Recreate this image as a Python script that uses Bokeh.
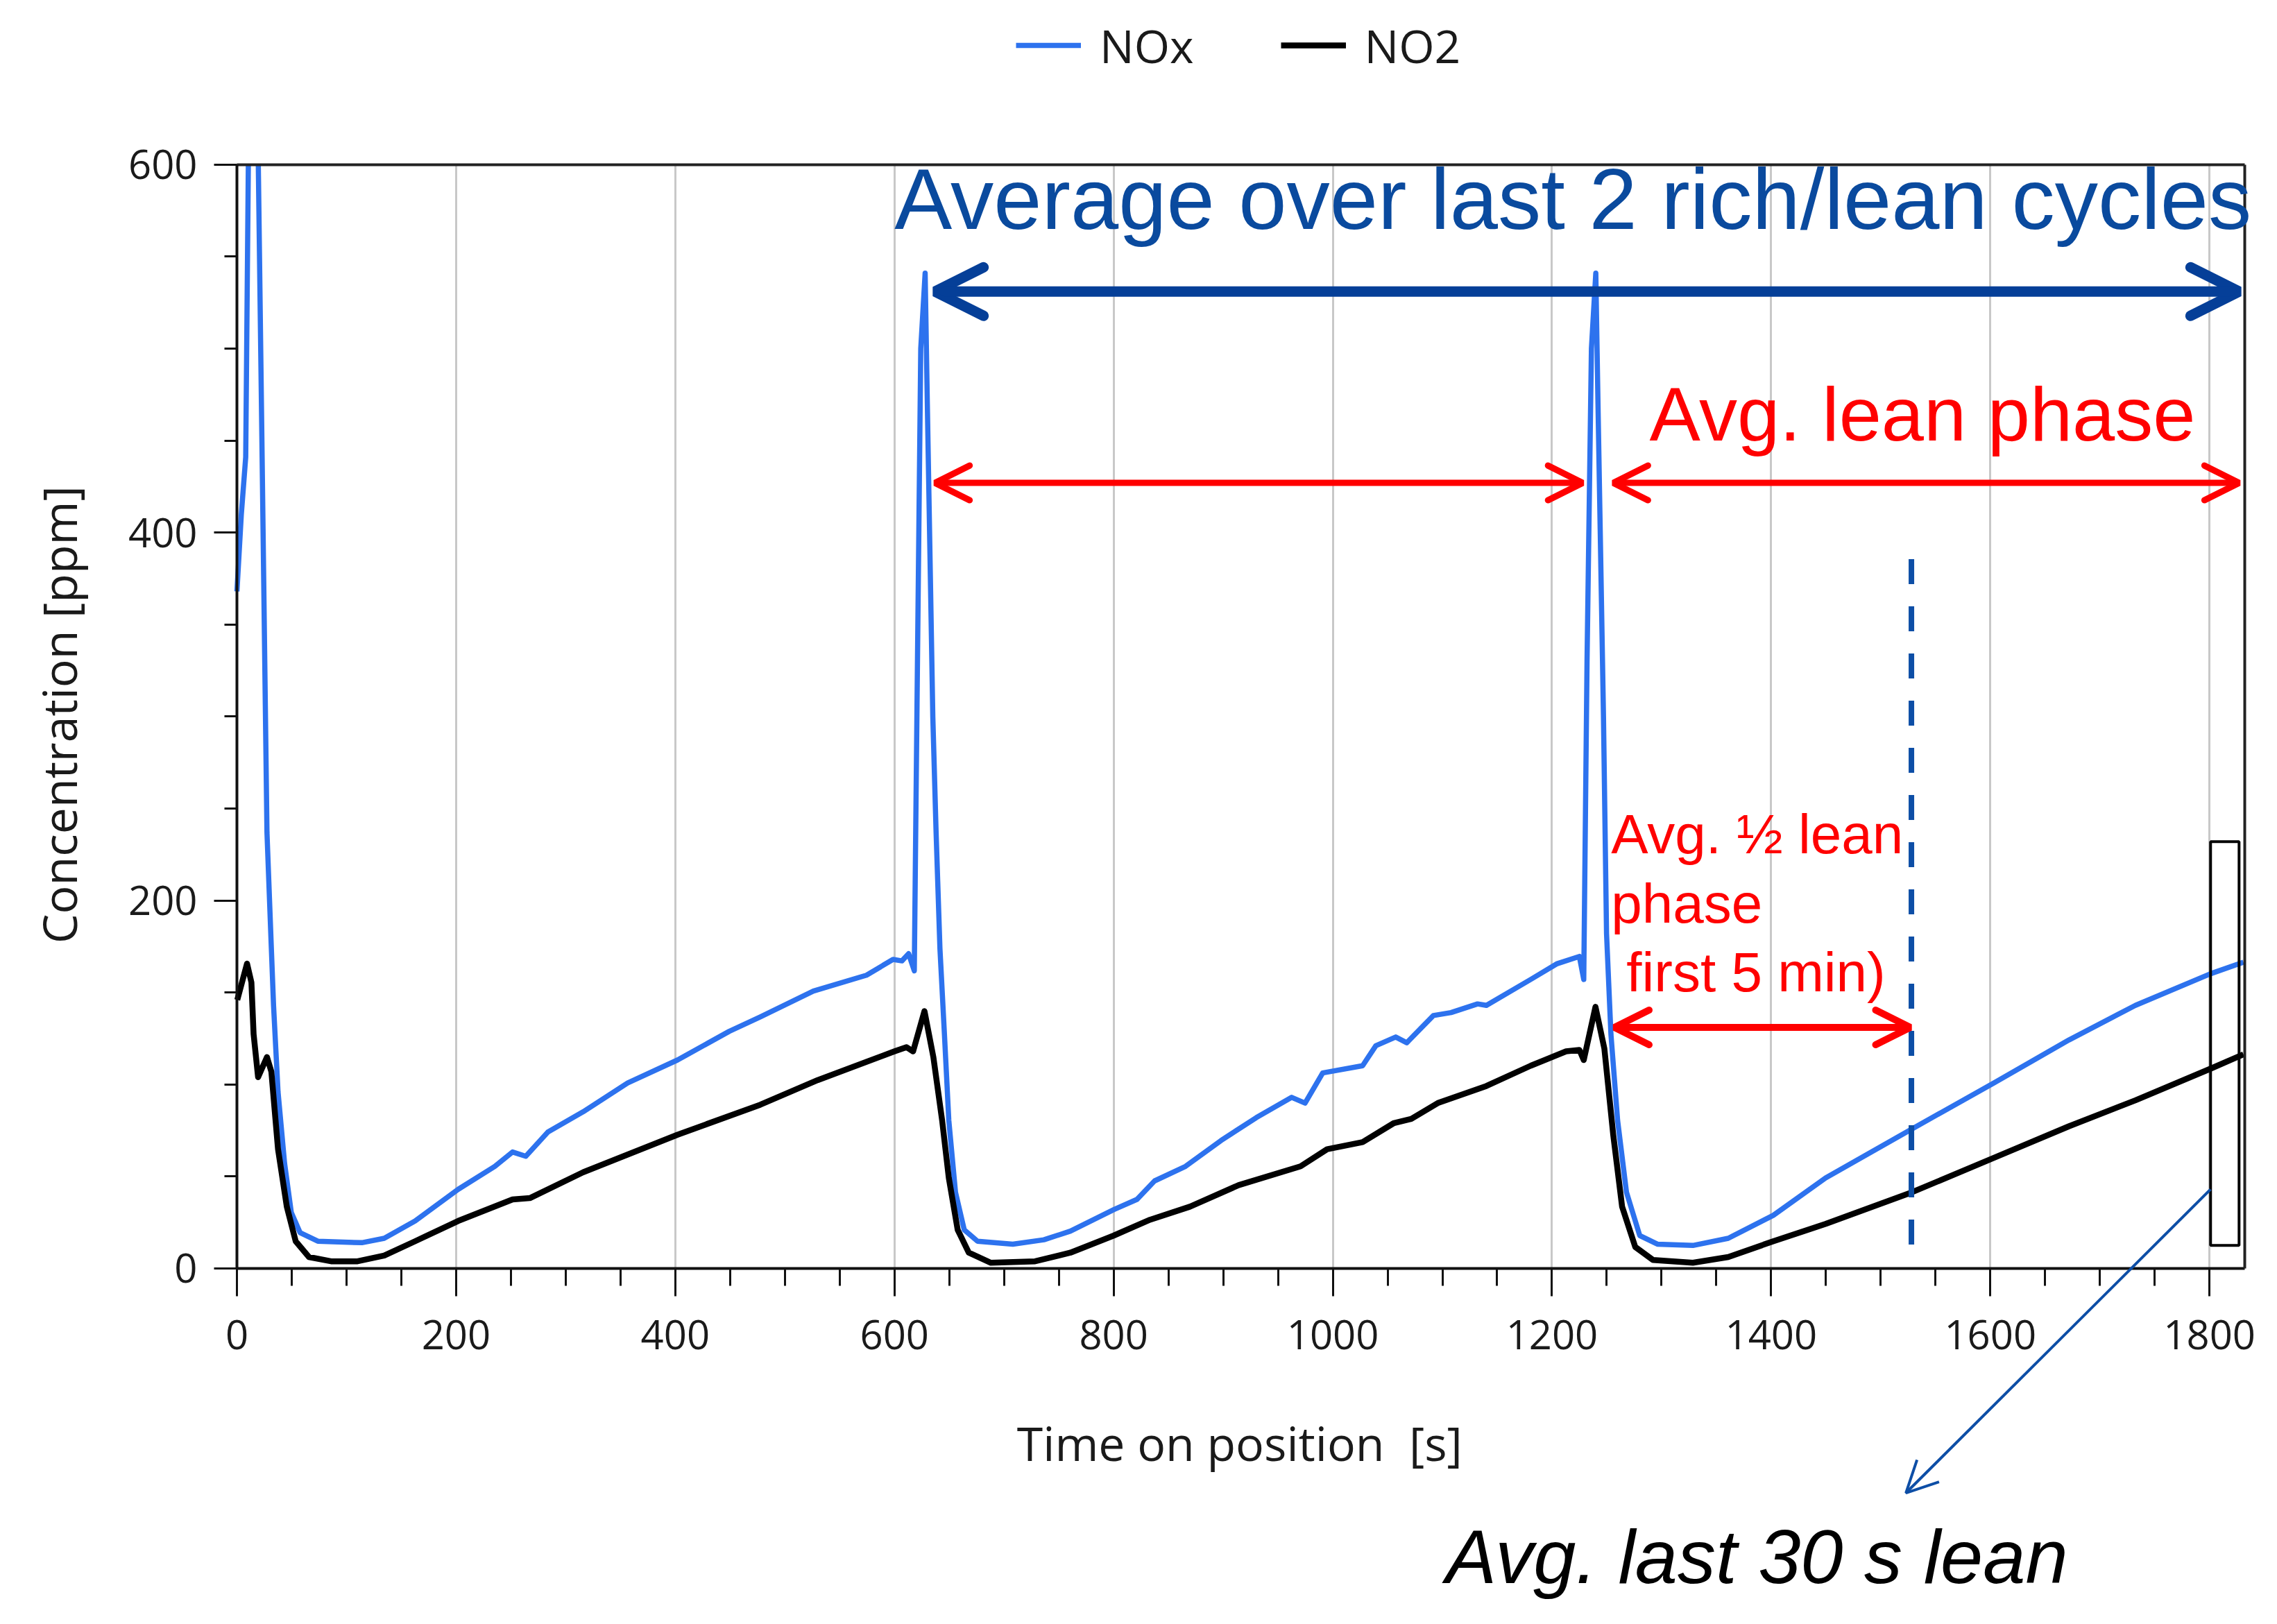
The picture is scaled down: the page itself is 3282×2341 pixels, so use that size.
import math
from bokeh.plotting import figure
from bokeh.models import (Legend, LegendItem, Label, Arrow, OpenHead, BoxAnnotation, Grid,
                          SingleIntervalTicker, FixedTicker, Range1d, LinearAxis)
from bokeh.embed import file_html
from bokeh.resources import INLINE

NAN = float("nan")   # NOx leaves the chart at the top during the first rich pulse

# ---------------- data ----------------
t_nox = [0, 4, 8, 10.4, 15, 19.5, 23, 27.4, 31.4, 33.4, 37.5, 43.5, 49.6, 57.6, 73.8, 114,
         134.4, 162.6, 201.8, 235.3, 251.5, 263.6, 283.8, 316, 356.5, 402, 449.3, 477.6, 526,
         574.5, 598.7, 606.8, 612.9, 618.1, 621, 624, 628, 630, 635, 638, 641.5, 645.6, 649.6,
         655.7, 663.7, 675.8, 708, 736.4, 760.6, 800.2, 821.2, 837.4, 865.6, 897.9, 930.2,
         962.5, 974.7, 990.8, 1027.2, 1039.3, 1057.4, 1067.5, 1091.8, 1107.9, 1132.1, 1140.2,
         1180.6, 1204.8, 1225, 1229, 1232, 1236, 1240, 1242, 1247, 1249.8, 1253.8, 1259.9,
         1268, 1280.1, 1296.2, 1328.6, 1360.9, 1402, 1449.7, 1528.4, 1603.1, 1671.8, 1732.4,
         1801, 1831]
nox = [368, 410, 441, 600, NAN, 600, 440, 237, 174, 143, 96, 57, 30.4, 19.5, 14.8, 14,
       16.4, 25.8, 43, 55.5, 63.3, 61, 74.2, 85.2, 100.8, 113.3, 128.9, 136.7, 150.8,
       159.4, 168, 167.2, 171.1, 161.8, 330, 500, 541, 470, 300, 237, 174, 127.4, 80.5,
       41.4, 21, 14.8, 13.2, 15.6, 20.3, 32, 37.5, 47.6, 55.5, 69.5, 82,
       93, 89.9, 106.3, 110.2, 121.1, 125.8, 122.7, 137.5, 139.1, 143.8, 143,
       157.1, 165.7, 169.6, 157.1, 330, 500, 541, 470, 300, 182, 127.4, 80.5,
       41.4, 17.9, 13.2, 12.5, 16.4, 28.9, 49.2, 75.8, 100.8, 124.2, 143,
       160.2, 166.5]

t_no2 = [0.3, 9.2, 13.2, 15.2, 19.3, 27.4, 31.4, 37.5, 45.5, 53.6, 65.7, 85.9, 110, 134.4,
         162.6, 201.8, 251.5, 267.6, 316, 402, 477.6, 530, 600, 611, 617, 627.4, 635.5, 643.5,
         649.6, 657.7, 667.8, 688, 728.3, 760.6, 800.2, 833.3, 869.7, 914.1, 970.6, 994.8,
         1027.2, 1055.4, 1071.6, 1095.8, 1140.2, 1180.6, 1212.9, 1225, 1229, 1239.7, 1247.8,
         1255.9, 1264, 1276, 1292.2, 1328.6, 1360.9, 1402, 1449.7, 1528.4, 1603.1, 1671.8,
         1732.4, 1801, 1831]
no2 = [146, 165.7, 155.5, 127.4, 104, 114.9, 107, 64.8, 33.6, 14.8, 6.2, 3.9, 3.9, 7,
       14.8, 25.8, 37.5, 38.3, 52.3, 72.7, 89, 102.4, 118, 120.3, 118, 139.9, 114.9, 80.5,
       49.2, 21, 8.6, 3.1, 3.9, 8.6, 17.9, 26.5, 33.6, 45.3, 55.5, 64.8,
       68.7, 78.9, 81.3, 89.9, 99.2, 110.2, 118, 118.8, 113.3, 142.2, 119.6,
       72.7, 33.6, 11.7, 4.6, 3.1, 6.2, 14.8, 24.2, 41.4, 60.1, 77.3,
       91.4, 108.6, 116.4]

series_names = ["NOx", "NO2"]
x_axis_limits = [0, 1832]
y_axis_limits = [0, 600]
x_view = [-215.9, 1851.8]     # whole canvas, so notes outside the axes are not clipped
y_view = [-189.3, 689.3]
tick_step = 200
x_title = "Time on position\u00a0 [s]"
y_title = "Concentration [ppm]"

# annotation anchors (data units)
cycles_arrow = [637, 1827, 531]          # x_start, x_end, y
lean_arrow_a = [637, 1228, 427]
lean_arrow_b = [1256, 1827, 427]
half_arrow = [1257, 1527, 131]
half_line = [1528, 13, 397]              # x, y0, y1
last_box = [1801, 1827, 12.5, 232]       # left, right, bottom, top
last_pointer = [1801, 43, 1523, -122]    # x0, y0, x1, y1

txt_cycles = ["Average over last 2 rich/lean cycles", 600, 581.5]
txt_lean = ["Avg. lean phase", 1289, 464.5]
txt_half = [["Avg. \u00bd lean", 1254, 236], ["phase", 1254, 198.5], ["first 5 min)", 1268, 161]]
txt_last = ["Avg. last 30 s lean", 1103, -156.5]
x_title_pos = [915, -94.7]
y_title_pos = [-162.7, 301]

NOX_C = "#2d72ee"
DARK_BLUE = "#053f98"
MID_BLUE = "#0d4ea6"
RED = "#ff0000"
ANN_FONT = "Liberation Sans"
AX_FONT = "Open Sans"
INK = "#1a1a1a"

p = figure(width=3266, height=2330, x_range=Range1d(*x_view), y_range=Range1d(*y_view),
           output_backend="svg", toolbar_location=None, title=None,
           min_border_left=0, min_border_right=0, min_border_top=0, min_border_bottom=0)
p.background_fill_color = "white"
p.border_fill_color = "white"
p.outline_line_color = None

xt = SingleIntervalTicker(interval=tick_step, num_minor_ticks=4)
yt = SingleIntervalTicker(interval=tick_step, num_minor_ticks=4)
p.xaxis.ticker = xt
p.yaxis.ticker = yt
p.xaxis.fixed_location = y_axis_limits[0]
p.yaxis.fixed_location = x_axis_limits[0]
p.xaxis.bounds = tuple(x_axis_limits)
p.yaxis.bounds = tuple(y_axis_limits)

p.ygrid.visible = False
p.xgrid.ticker = xt
p.xgrid.grid_line_color = "#c8c8c8"
p.xgrid.grid_line_width = 3
p.xgrid.bounds = tuple(x_axis_limits)
if "cross_bounds" in Grid.properties():
    p.xgrid.cross_bounds = tuple(y_axis_limits)

for ax in (p.xaxis[0], p.yaxis[0]):
    ax.axis_line_color = "#111111"
    ax.axis_line_width = 4
    ax.major_tick_line_color = "#111111"
    ax.minor_tick_line_color = "#111111"
    ax.major_tick_line_width = 3
    ax.minor_tick_line_width = 3
    ax.major_tick_in = 0
    ax.minor_tick_in = 0
    ax.major_label_text_font = AX_FONT
    ax.major_label_text_font_size = "58px"
    ax.major_label_text_color = INK

p.xaxis.major_tick_out = 40
p.xaxis.minor_tick_out = 25
p.yaxis.major_tick_out = 33
p.yaxis.minor_tick_out = 18
p.xaxis.major_label_standoff = 35
p.yaxis.major_label_standoff = 24

# frame border: right side and top edge of the data area
right_ax = LinearAxis(ticker=FixedTicker(ticks=[]), bounds=tuple(y_axis_limits),
                      fixed_location=x_axis_limits[1],
                      axis_line_color="#222222", axis_line_width=4,
                      major_tick_out=0, minor_tick_out=0, major_tick_in=0, minor_tick_in=0)
p.add_layout(right_ax, "right")
top_ax = LinearAxis(ticker=FixedTicker(ticks=[]), bounds=tuple(x_axis_limits),
                    fixed_location=y_axis_limits[1],
                    axis_line_color="#222222", axis_line_width=4,
                    major_tick_out=0, minor_tick_out=0, major_tick_in=0, minor_tick_in=0)
p.add_layout(top_ax, "above")

if "cross_bounds" not in Grid.properties():
    gx = list(range(x_axis_limits[0] + tick_step, x_axis_limits[1], tick_step))
    p.segment(gx, [y_axis_limits[0]] * len(gx), gx, [y_axis_limits[1]] * len(gx),
              line_color="#c8c8c8", line_width=3, level="underlay")
    p.xgrid.visible = False

r_nox = p.line(t_nox, nox, line_color=NOX_C, line_width=7.5, line_join="round")
r_no2 = p.line(t_no2, no2, line_color="black", line_width=8.5, line_join="round")

legend = Legend(items=[LegendItem(label=series_names[0], renderers=[r_nox]),
                       LegendItem(label=series_names[1], renderers=[r_no2])],
                location=(1464, 2220), orientation="horizontal", padding=0, margin=0,
                spacing=125, glyph_width=94, glyph_height=60, label_height=60,
                label_standoff=27, label_text_font=AX_FONT, label_text_font_size="66px",
                label_text_color=INK, border_line_color=None, background_fill_alpha=0)
p.add_layout(legend)

p.add_layout(Label(x=x_title_pos[0], y=x_title_pos[1], text=x_title, text_font=AX_FONT,
                   text_font_size="68px", text_color=INK, text_align="center",
                   text_baseline="alphabetic"))
p.add_layout(Label(x=y_title_pos[0], y=y_title_pos[1], text=y_title, text_font=AX_FONT,
                   text_font_size="68px", text_color=INK, text_align="center",
                   text_baseline="middle", angle=math.pi / 2))


def dbl_arrow(spec, color, width, size):
    x0, x1, y = spec
    p.add_layout(Arrow(start=OpenHead(size=size, line_width=width, line_color=color, line_cap="round"),
                       end=OpenHead(size=size, line_width=width, line_color=color, line_cap="round"),
                       x_start=x0, y_start=y, x_end=x1, y_end=y,
                       line_color=color, line_width=width))


dbl_arrow(cycles_arrow, DARK_BLUE, 15, 70)
dbl_arrow(lean_arrow_a, RED, 9, 50)
dbl_arrow(lean_arrow_b, RED, 9, 50)
dbl_arrow(half_arrow, RED, 10, 50)

p.line([half_line[0], half_line[0]], [half_line[1], half_line[2]], line_color=MID_BLUE,
       line_width=8, line_dash="36 32")

p.add_layout(BoxAnnotation(left=last_box[0], right=last_box[1], bottom=last_box[2], top=last_box[3],
                           fill_alpha=0, line_color="black", line_alpha=1.0, line_width=4))

p.add_layout(Arrow(start=None, end=OpenHead(size=45, line_width=4, line_color=MID_BLUE),
                   x_start=last_pointer[0], y_start=last_pointer[1],
                   x_end=last_pointer[2], y_end=last_pointer[3],
                   line_color=MID_BLUE, line_width=4))

p.add_layout(Label(x=txt_cycles[1], y=txt_cycles[2], text=txt_cycles[0], text_font=ANN_FONT,
                   text_font_size="124.5px", text_color="#0a4a9e", text_baseline="alphabetic"))
p.add_layout(Label(x=txt_lean[1], y=txt_lean[2], text=txt_lean[0], text_font=ANN_FONT,
                   text_font_size="110px", text_color=RED, text_baseline="alphabetic"))
for s, xx, yy in txt_half:
    p.add_layout(Label(x=xx, y=yy, text=s, text_font=ANN_FONT, text_font_size="80px",
                       text_color=RED, text_baseline="alphabetic"))
p.add_layout(Label(x=txt_last[1], y=txt_last[2], text=txt_last[0], text_font=ANN_FONT,
                   text_font_size="110px", text_font_style="italic", text_color="black",
                   text_baseline="alphabetic"))

open("out.html", "w").write(file_html(p, INLINE))
